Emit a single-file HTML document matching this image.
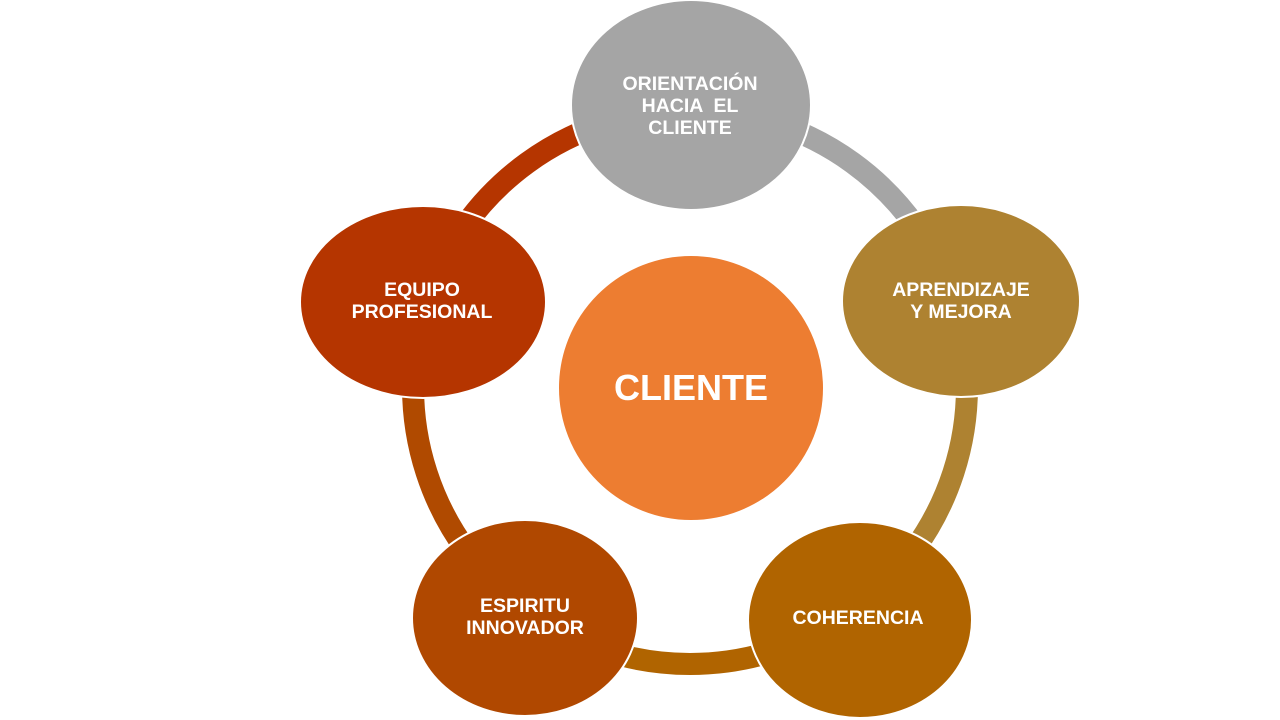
<!DOCTYPE html>
<html><head><meta charset="utf-8"><style>
html,body{margin:0;padding:0;background:#fff;}
svg{display:block}
text{font-family:"Liberation Sans",Arial,sans-serif;font-weight:bold;fill:#fff;text-anchor:middle}
</style></head><body>
<svg width="1280" height="720" viewBox="0 0 1280 720">
<g fill="none" stroke-width="22">
<path d="M690 110 A277 277 0 0 1 953.4 301.4" stroke="#a5a5a5"/>
<path d="M953.4 301.4 A277 277 0 0 1 852.8 611.1" stroke="#ae8231"/>
<path d="M852.8 611.1 A277 277 0 0 1 527.2 611.1" stroke="#b06400"/>
<path d="M527.2 611.1 A277 277 0 0 1 426.6 301.4" stroke="#b04a00"/>
<path d="M426.6 301.4 A277 277 0 0 1 690 110" stroke="#b53500"/>
</g>
<ellipse cx="691" cy="105" rx="120" ry="105" fill="#a5a5a5" stroke="#fff" stroke-width="2"/>
<ellipse cx="961" cy="301" rx="119" ry="96" fill="#ae8231" stroke="#fff" stroke-width="2"/>
<ellipse cx="860" cy="620" rx="112" ry="98" fill="#b06400" stroke="#fff" stroke-width="2"/>
<ellipse cx="525" cy="618" rx="113" ry="98" fill="#b04800" stroke="#fff" stroke-width="2"/>
<ellipse cx="423" cy="302" rx="123" ry="96" fill="#b53500" stroke="#fff" stroke-width="2"/>
<circle cx="691" cy="388" r="133" fill="#ed7d31" stroke="#fff" stroke-width="2"/>
<g font-size="19.5">
<text x="690" y="90">ORIENTACIÓN</text>
<text x="690" y="112" xml:space="preserve">HACIA  EL</text>
<text x="690" y="134">CLIENTE</text>
<text x="961" y="296">APRENDIZAJE</text>
<text x="961" y="318">Y MEJORA</text>
<text x="858" y="624">COHERENCIA</text>
<text x="525" y="612">ESPIRITU</text>
<text x="525" y="634">INNOVADOR</text>
<text x="422" y="296">EQUIPO</text>
<text x="422" y="318">PROFESIONAL</text>
</g>
<text x="691" y="400" font-size="36">CLIENTE</text>
</svg>
</body></html>
